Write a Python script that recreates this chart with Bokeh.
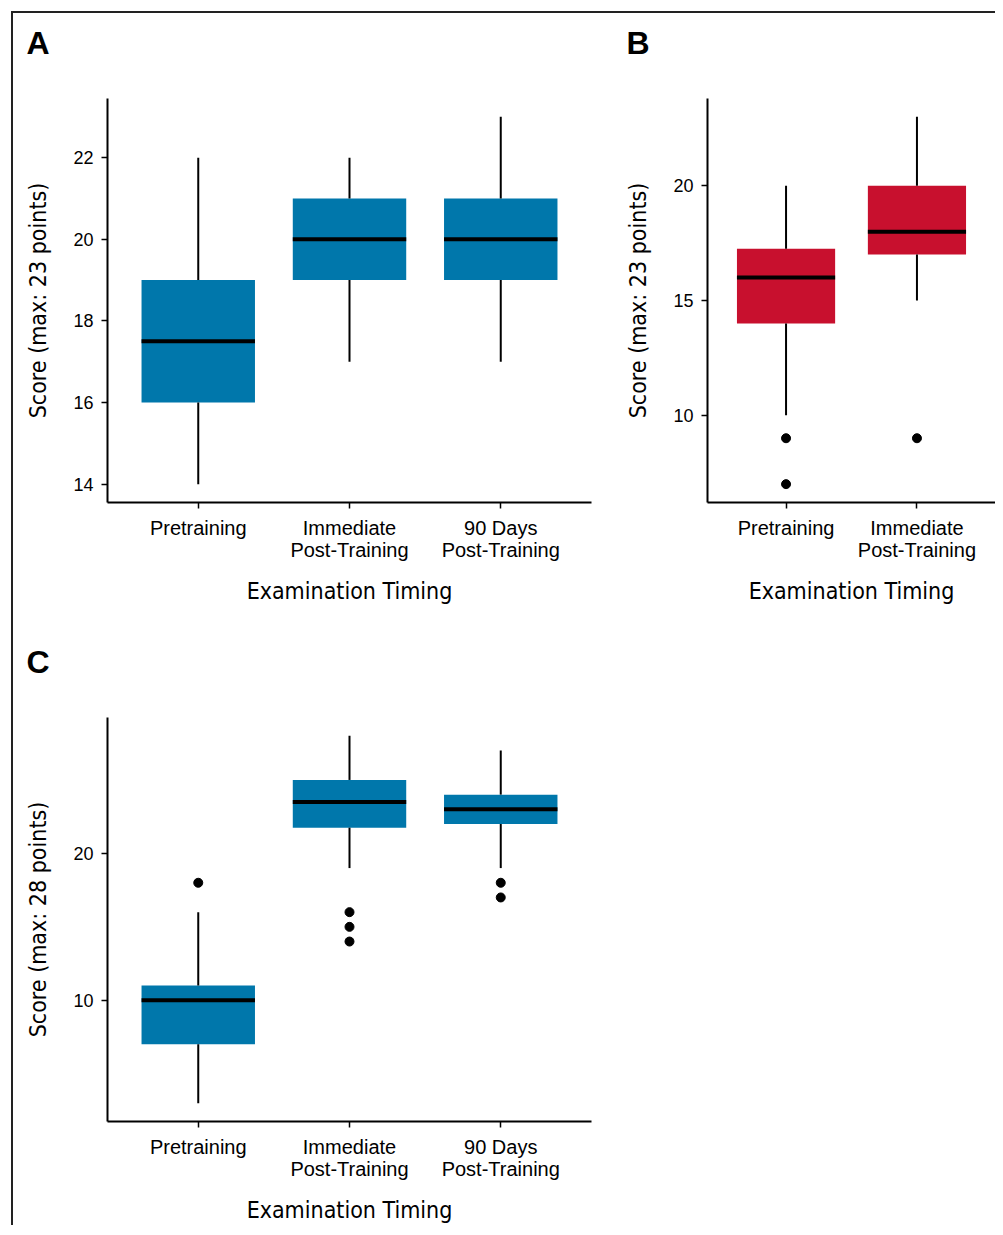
from bokeh.plotting import figure
from bokeh.models import FixedTicker, Range1d, Title
from bokeh.layouts import row, column
from bokeh.embed import file_html
from bokeh.resources import INLINE

# ---------------- data ----------------
cats3 = ["Pretraining", "Immediate\nPost-Training", "90 Days\nPost-Training"]
cats2 = ["Pretraining", "Immediate\nPost-Training"]

# Panel A (max 23 points)
A_low = [14, 17, 17]
A_q1 = [16, 19, 19]
A_med = [17.5, 20, 20]
A_q3 = [19, 21, 21]
A_high = [22, 22, 23]
A_out_cat = []
A_out_val = []
A_ticks = [14, 16, 18, 20, 22]

# Panel B (max 23 points)
B_low = [10, 15]
B_q1 = [14, 17]
B_med = [16, 18]
B_q3 = [17.25, 20]
B_high = [20, 23]
B_out_cat = ["Pretraining", "Pretraining", "Immediate\nPost-Training"]
B_out_val = [9, 7, 9]
B_ticks = [10, 15, 20]

# Panel C (max 28 points)
C_low = [3, 19, 19]
C_q1 = [7, 21.75, 22]
C_med = [10, 23.5, 23]
C_q3 = [11, 25, 24]
C_high = [16, 28, 27]
C_out_cat = ["Pretraining",
             "Immediate\nPost-Training", "Immediate\nPost-Training", "Immediate\nPost-Training",
             "90 Days\nPost-Training", "90 Days\nPost-Training"]
C_out_val = [18, 16, 15, 14, 18, 17]
C_ticks = [10, 20]

BLUE = "#0077AB"
RED = "#C8102E"
TICK_FONT = "Liberation Sans"
TITLE_FONT = "DejaVu Sans Condensed"


def panel(cats, low, q1, med, q3, high, out_cat, out_val, color, yticks,
          ylabel, letter, width, height, bl, br, bt, bb):
    n = len(cats)
    xs = list(range(1, n + 1))
    ymin = min(low + out_val)
    ymax = max(high + out_val)
    pad = (ymax - ymin) * 0.05
    p = figure(width=width, height=height, output_backend="svg", toolbar_location=None,
               x_range=Range1d(0.4, n + 0.6), y_range=Range1d(ymin - pad, ymax + pad),
               min_border_left=bl, min_border_right=br, min_border_top=bt, min_border_bottom=bb)
    p.outline_line_color = None
    p.xgrid.visible = False
    p.ygrid.visible = False
    p.background_fill_color = "white"
    p.border_fill_color = "white"

    # spacer (closest to the frame), then the panel letter further out
    p.add_layout(Title(text=" ", text_font=TICK_FONT, text_font_size="32px", standoff=0), "above")
    p.add_layout(Title(text=letter, text_font=TICK_FONT, text_font_size="32px",
                       text_font_style="bold", text_color="black", align="left",
                       offset=-81, standoff=0), "above")

    bw = 0.75
    p.vbar(x=xs, width=bw, bottom=q1, top=q3, fill_color=color, line_color=None)
    p.segment(x0=xs, y0=low, x1=xs, y1=q1, line_color="black", line_width=2)
    p.segment(x0=xs, y0=q3, x1=xs, y1=high, line_color="black", line_width=2)
    p.segment(x0=[x - bw / 2 for x in xs], y0=med, x1=[x + bw / 2 for x in xs], y1=med,
              line_color="black", line_width=4)
    if out_val:
        ox = [cats.index(c) + 1 for c in out_cat]
        p.scatter(x=ox, y=out_val, size=9, fill_color="black", line_color="black")

    for ax in (p.xaxis[0], p.yaxis[0]):
        ax.axis_line_color = "black"
        ax.axis_line_width = 2
        ax.major_tick_line_color = "black"
        ax.major_tick_line_width = 1.5
        ax.major_tick_out = 6
        ax.major_tick_in = 0
        ax.minor_tick_line_color = None
        ax.major_label_text_color = "black"
        ax.axis_label_text_color = "black"
        ax.axis_label_text_font = TITLE_FONT
        ax.axis_label_text_font_style = "normal"
        ax.axis_label_text_font_size = "23px"
        ax.major_label_text_font = TICK_FONT

    xa = p.xaxis[0]
    xa.ticker = FixedTicker(ticks=xs)
    xa.major_label_overrides = {x: c for x, c in zip(xs, cats)}
    xa.major_label_text_font_size = "20px"
    xa.major_label_text_line_height = 1.0
    xa.major_label_standoff = 8
    xa.axis_label = "Examination Timing"
    xa.axis_label_standoff = 14

    ya = p.yaxis[0]
    ya.ticker = FixedTicker(ticks=yticks)
    ya.major_label_text_font_size = "18px"
    ya.major_label_standoff = 8
    ya.axis_label = ylabel
    ya.axis_label_standoff = 19
    return p


pA = panel(cats3, A_low, A_q1, A_med, A_q3, A_high, A_out_cat, A_out_val, BLUE, A_ticks,
           "Score (max: 23 points)", "A", 587, 607, 94, 9, 85, 118)
pB = panel(cats2, B_low, B_q1, B_med, B_q3, B_high, B_out_cat, B_out_val, RED, B_ticks,
           "Score (max: 23 points)", "B", 395, 607, 107, 0, 85, 118)
pC = panel(cats3, C_low, C_q1, C_med, C_q3, C_high, C_out_cat, C_out_val, BLUE, C_ticks,
           "Score (max: 28 points)", "C", 587, 605, 94, 9, 97, 103)

layout = column(row(pA, pB), pC,
                styles={"border-top": "2px solid #222", "border-left": "2px solid #222"},
                margin=(11, 0, 0, 11))

open("out.html", "w").write(file_html(layout, INLINE))
